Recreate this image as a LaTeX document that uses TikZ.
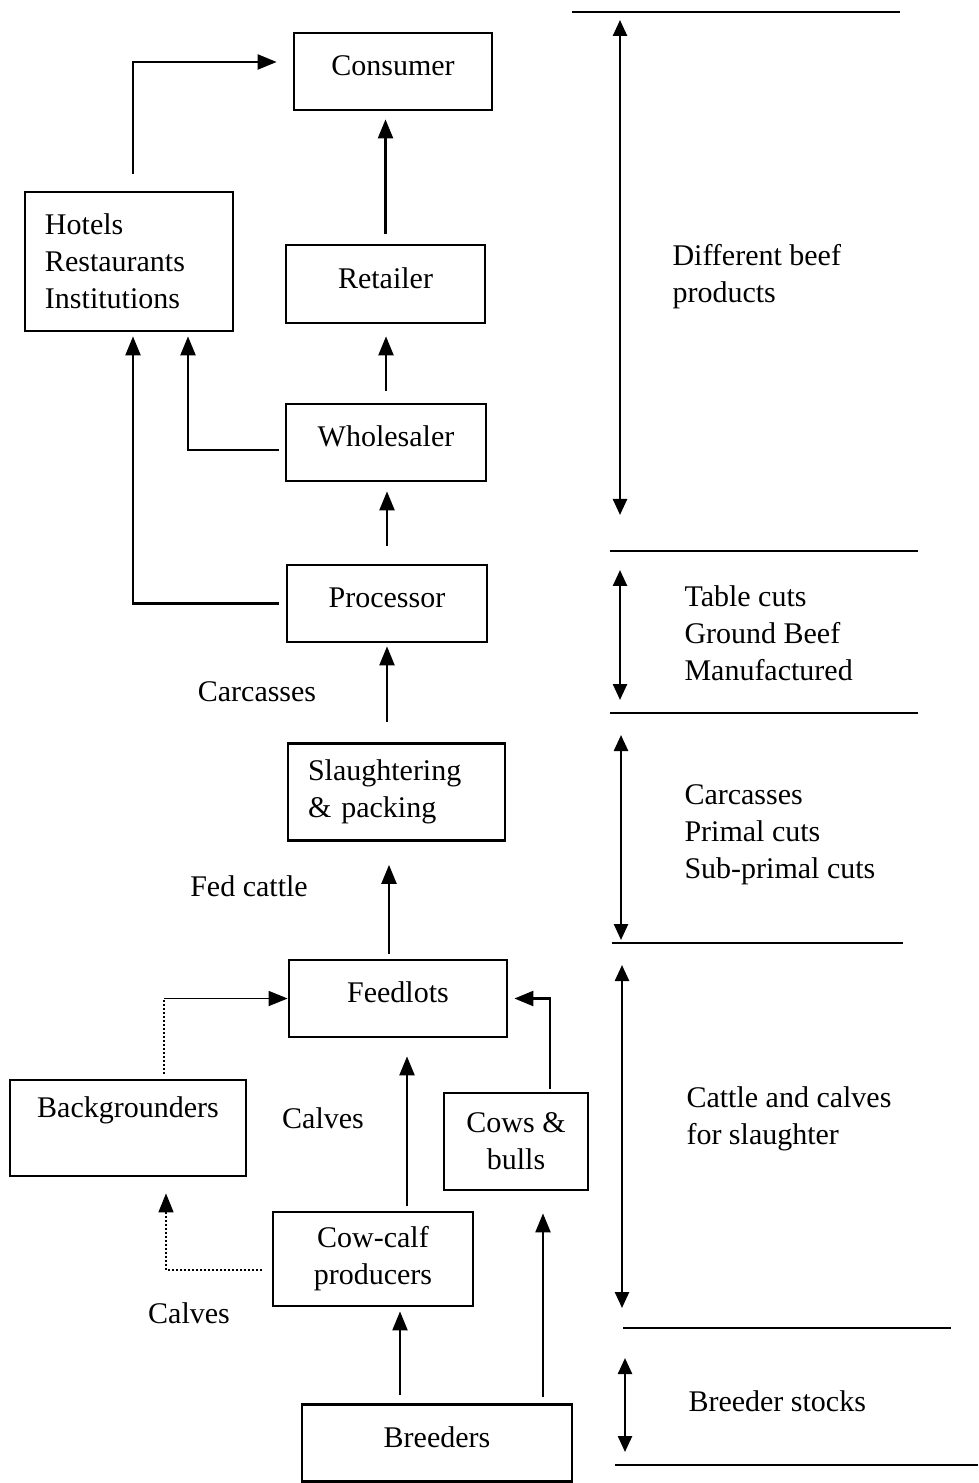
\documentclass[tikz,border=0pt]{standalone}
\usepackage{fontspec}
\setmainfont{Liberation Serif}
\usetikzlibrary{arrows.meta,positioning}

\begin{document}
\begin{tikzpicture}[
    x=0.4pt, y=-0.4pt,
    font=\fontsize{12}{14.8}\selectfont,
    box/.style={draw, line width=1.1pt, inner sep=2pt, minimum width=80pt, minimum height=30.8pt, align=center},
    raised/.style={text depth=5pt},
    arrow/.style={-{Triangle[length=7.6pt,width=6pt]}, line width=0.9pt},
    dotarrow/.style={-{Triangle[length=7.6pt,width=6pt]}, line width=0.6pt, densely dotted},
    span/.style={{Triangle[length=6.4pt,width=5.6pt]}-{Triangle[length=6.4pt,width=5.6pt]}, line width=1pt},
    level/.style={line width=1pt},
    lbl/.style={inner sep=0pt},
    note/.style={inner sep=0pt, anchor=west, align=left}
]
    \useasboundingbox (0,0) rectangle (978,1483);

    % chain boxes
    \node[box, raised, minimum width=79.2pt] (consumer) at (393,71.5) {Consumer};
    \node[box, minimum width=83.2pt, minimum height=55.6pt, align=left, text width=67.2pt, inner xsep=8pt] (hri) at (129,261.5) {Hotels\\Restaurants\\Institutions};
    \node[box, raised, minimum width=79.6pt, minimum height=31.2pt] (retailer) at (385.5,284) {Retailer};
    \node[box, raised] (wholesaler) at (386,442.5) {Wholesaler};
    \node[box, raised] (processor) at (387,603.5) {Processor};
    \node[box, minimum height=38.8pt, align=left, text width=70.8pt, inner xsep=8pt] (slaughter) at (396.5,792) {Slaughtering\\\& packing};
    \node[box, raised, minimum width=87.2pt] (feedlots) at (398,998.5) {Feedlots};
    \node[box, minimum width=94.4pt, minimum height=38.4pt, text depth=17pt] (backgr) at (128,1128) {Backgrounders};
    \node[box, minimum width=57.6pt, minimum height=38.8pt] (cows) at (516,1141.5) {Cows \&\\bulls};
    \node[box, minimum height=37.6pt] (cowcalf) at (373,1259) {Cow-calf\\producers};
    \node[box, raised, minimum width=108pt] (breeders) at (437,1443) {Breeders};

    % flow labels
    \node[lbl] (carclbl) at (257,692) {Carcasses};
    \node[lbl] (fedlbl) at (249,886) {Fed cattle};
    \node[lbl] (calflbl) at (323,1118) {Calves};
    \node[lbl] (calflblb) at (189,1313) {Calves};

    % helper points
    \coordinate (ccin) at ([xshift=10.8pt]cowcalf.south);
    \coordinate (cbin) at ([xshift=10.8pt]cows.south);
    \coordinate (ccout) at ([xshift=13.6pt]cowcalf.north);
    \coordinate (fdout) at ([xshift=-3.6pt]feedlots.north);
    \coordinate (bgout) at ([xshift=14.4pt]backgr.north);
    \coordinate (bgcorner) at (bgout |- feedlots.west);

    % flows
    \draw[arrow, shorten <=4pt, shorten >=3.2pt] (retailer.north) -- (retailer.north |- consumer.south);
    \draw[arrow, shorten <=4.8pt, shorten >=4.8pt] (wholesaler.north) -- (wholesaler.north |- retailer.south);
    \draw[arrow, shorten <=7.2pt, shorten >=3.6pt] (processor.north) -- (processor.north |- wholesaler.south);
    \draw[arrow, shorten <=8pt, shorten >=1.2pt] (processor.south |- slaughter.north) -- (processor.south);
    \draw[arrow, shorten <=2pt, shorten >=9.2pt] (fdout) -- (fdout |- slaughter.south);
    \draw[arrow, shorten <=2pt, shorten >=7.2pt] (ccout) -- (ccout |- feedlots.south);
    \draw[arrow, shorten <=1.2pt, shorten >=2.4pt] ([xshift=13.6pt]cows.north) |- (feedlots.east);
    \draw[densely dotted, line width=0.6pt, shorten <=2pt] (bgout) -- (bgcorner);
    \draw[arrow, line width=0.6pt] (bgcorner) -- (feedlots.west);
    \draw[dotarrow, shorten <=4pt, shorten >=6.4pt] ([yshift=-4.4pt]cowcalf.west) -| ([xshift=15.2pt]backgr.south);
    \draw[arrow, shorten <=3.2pt, shorten >=1.6pt] (ccin |- breeders.north) -- (ccin);
    \draw[arrow, shorten <=2.4pt, shorten >=8.8pt] (cbin |- breeders.north) -- (cbin);
    \draw[arrow, shorten <=2.4pt, shorten >=1.6pt] ([yshift=-3pt]wholesaler.west) -| ([xshift=23.6pt]hri.south);
    \draw[arrow, shorten <=2.8pt, shorten >=1.6pt] (processor.west) -| ([xshift=1.6pt]hri.south);
    \draw[arrow, shorten <=6.8pt, shorten >=6.4pt] ([xshift=1.6pt]hri.north) |- ([yshift=3.8pt]consumer.west);

    % product levels
    \coordinate (lva) at (572,12);     \coordinate (lvb) at (900,12);
    \coordinate (lvc) at (610,551);    \coordinate (lvd) at (918,551);
    \coordinate (lve) at (610,713);    \coordinate (lvf) at (918,713);
    \coordinate (lvg) at (612,943);    \coordinate (lvh) at (903,943);
    \coordinate (lvi) at (623,1328);   \coordinate (lvj) at (951,1328);
    \coordinate (lvk) at (615,1465);   \coordinate (lvl) at (978,1465);
    \draw[level] (lva) -- (lvb);
    \draw[level] (lvc) -- (lvd);
    \draw[level] (lve) -- (lvf);
    \draw[level] (lvg) -- (lvh);
    \draw[level] (lvi) -- (lvj);
    \draw[level] (lvk) -- (lvl);

    \coordinate (spa) at (620,20);     \coordinate (spb) at (620,515);
    \coordinate (spc) at (620,570);    \coordinate (spd) at (620,700);
    \coordinate (spe) at (621,735);    \coordinate (spf) at (621,940);
    \coordinate (spg) at (622,965);    \coordinate (sph) at (622,1308);
    \coordinate (spi) at (625,1358);   \coordinate (spj) at (625,1452);
    \draw[span] (spa) -- (spb);
    \draw[span] (spc) -- (spd);
    \draw[span] (spe) -- (spf);
    \draw[span] (spg) -- (sph);
    \draw[span] (spi) -- (spj);

    \node[note] (beefnote) at (672,277) {Different beef\\products};
    \node[note] (cutsnote) at (684,633) {Table cuts\\Ground Beef\\Manufactured};
    \node[note] (carcnote) at (684,835) {Carcasses\\Primal cuts\\Sub-primal cuts};
    \node[note] (cattlenote) at (686,1119) {Cattle and calves\\for slaughter};
    \node[note] (breednote) at (688,1401) {Breeder stocks};
\end{tikzpicture}
\end{document}
